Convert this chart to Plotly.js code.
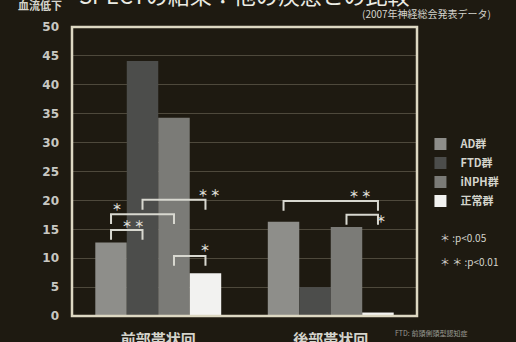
<!DOCTYPE html>
<html>
<head>
<meta charset="utf-8">
<script src="https://cdn.plot.ly/plotly-3.0.1.min.js"></script>
<style>html,body{margin:0;padding:0;background:#1e1a11;}#chart{width:516px;height:342px;}</style>
</head>
<body>
<div id="chart"></div>
<script>
// ---- data ----
const categories = ['前部帯状回', '後部帯状回'];
const groupNames = ['AD群', 'FTD群', 'iNPH群', '正常群'];
const adValues = [12.7, 16.3];
const ftdValues = [44.1, 5.0];
const inphValues = [34.3, 15.4];
const normalValues = [7.4, 0.6];
const yTicks = [0, 5, 10, 15, 20, 25, 30, 35, 40, 45, 50];
const chartTitle = 'SPECTの結果：他の疾患との比較';

// significance brackets: category, from-bar, to-bar, level, mark
const sigCat = [0, 0, 0, 0, 1, 1];
const sigFrom = [0, 0, 1, 2, 0, 2];
const sigTo = [1, 2, 3, 3, 3, 3];
const sigLevel = [14.9, 17.6, 20.1, 10.4, 19.9, 17.5];
const sigMark = ['＊ ＊', '＊', '＊ ＊', '＊', '＊ ＊', '＊'];

// ---- styling ----
const FONT = 'Noto Sans CJK JP, Noto Sans, sans-serif';
const BG = '#1e1a11';
const TXT = '#d4d4cc';
const barColors = ['#8e8e8a', '#4c4d4b', '#7b7b77', '#f2f2f0'];
const seriesValues = [adValues, ftdValues, inphValues, normalValues];
const BARGAP = 0.27;
const nBars = seriesValues.length;
const barW = (1 - BARGAP) / nBars;
function barCenter(cat, i) { return cat - (1 - BARGAP) / 2 + barW * (i + 0.5); }

// label placement along bracket (fraction) and vertical pixel shift
const markT = [0.69, 0.09, 1.05, 1.0, 0.81, 1.1];
const markDy = [6, 8, 7, 8, 7, -4];

const xIdx = categories.map((c, i) => i);

const traces = seriesValues.map((vals, i) => ({
  type: 'bar',
  name: groupNames[i],
  x: xIdx,
  y: vals,
  marker: { color: barColors[i], line: { width: 0 } },
  hoverinfo: 'skip'
}));

const shapes = [
  { type: 'rect', xref: 'paper', yref: 'paper', x0: 0, x1: 1, y0: 0, y1: 1,
    line: { color: '#ddd8c2', width: 2.5 }, layer: 'above' }
];
const annotations = [];
const LEG = 1.7;
for (let k = 0; k < sigCat.length; k++) {
  const x1 = barCenter(sigCat[k], sigFrom[k]);
  const x2 = barCenter(sigCat[k], sigTo[k]);
  const y = sigLevel[k];
  shapes.push({
    type: 'path', xref: 'x', yref: 'y',
    path: `M${x1},${y - LEG} L${x1},${y} L${x2},${y} L${x2},${y - LEG}`,
    line: { color: '#d8d8d0', width: 2 }, layer: 'above'
  });
  annotations.push({
    x: x1 + (x2 - x1) * markT[k], y: y, xref: 'x', yref: 'y',
    text: '<b>' + sigMark[k] + '</b>', showarrow: false, yshift: markDy[k],
    font: { family: FONT, size: 10, color: '#dcdcd4' }, xanchor: 'center', yanchor: 'middle'
  });
}

annotations.push(
  { xref: 'paper', yref: 'paper', x: 0.5, y: 1.113, text: chartTitle, showarrow: false,
    font: { family: FONT, size: 22, color: '#ececE4' }, xanchor: 'center', yanchor: 'middle' },
  { xref: 'paper', yref: 'paper', x: -0.094, y: 1.076, text: '<b>血流低下</b>', showarrow: false,
    font: { family: FONT, size: 11, color: TXT }, xanchor: 'center', yanchor: 'middle' },
  { xref: 'paper', yref: 'paper', x: 1.219, y: 1.045, text: '(2007年神経総会発表データ)', showarrow: false,
    font: { family: FONT, size: 10, color: TXT }, xanchor: 'right', yanchor: 'middle' },
  { xref: 'paper', yref: 'paper', x: 1.06, y: 0.27, text: '＊ :p&lt;0.05', showarrow: false,
    font: { family: FONT, size: 10, color: TXT }, xanchor: 'left', yanchor: 'middle' },
  { xref: 'paper', yref: 'paper', x: 1.06, y: 0.187, text: '＊ ＊ :p&lt;0.01', showarrow: false,
    font: { family: FONT, size: 10, color: TXT }, xanchor: 'left', yanchor: 'middle' },
  { xref: 'paper', yref: 'paper', x: 0.931, y: -0.059, text: 'FTD: 前頭側頭型認知症', showarrow: false,
    font: { family: FONT, size: 7, color: '#9a9a94' }, xanchor: 'left', yanchor: 'middle' }
);

const layout = {
  width: 516, height: 342,
  paper_bgcolor: BG, plot_bgcolor: BG,
  margin: { l: 72, r: 83, t: 27, b: 26, pad: 0 },
  font: { family: FONT, color: TXT },
  barmode: 'group', bargap: BARGAP, bargroupgap: 0,
  xaxis: {
    type: 'linear', range: [-0.5, 1.5], tickvals: xIdx, ticktext: categories,
    showgrid: false, zeroline: false, showline: false, ticks: '',
    tickfont: { family: FONT, size: 15, color: TXT, weight: 'bold' }, ticklabelstandoff: 13
  },
  yaxis: {
    range: [0, 50], tickvals: yTicks, showgrid: true, gridcolor: 'rgba(150,145,125,0.4)', gridwidth: 1,
    zeroline: false, showline: false, ticks: '', ticklabelstandoff: 12,
    tickfont: { family: 'DejaVu Sans, sans-serif', size: 12, color: '#c8c8c2', weight: 'bold' }
  },
  showlegend: true,
  legend: {
    x: 1.01, y: 0.645, xanchor: 'left', yanchor: 'top', bgcolor: 'rgba(0,0,0,0)',
    font: { family: FONT, size: 11, color: TXT, weight: 'bold' },
    itemwidth: 30, tracegroupgap: 2, traceorder: 'normal'
  },
  shapes: shapes,
  annotations: annotations
};

Plotly.newPlot('chart', traces, layout, { staticPlot: true, displayModeBar: false });
</script>
</body>
</html>
